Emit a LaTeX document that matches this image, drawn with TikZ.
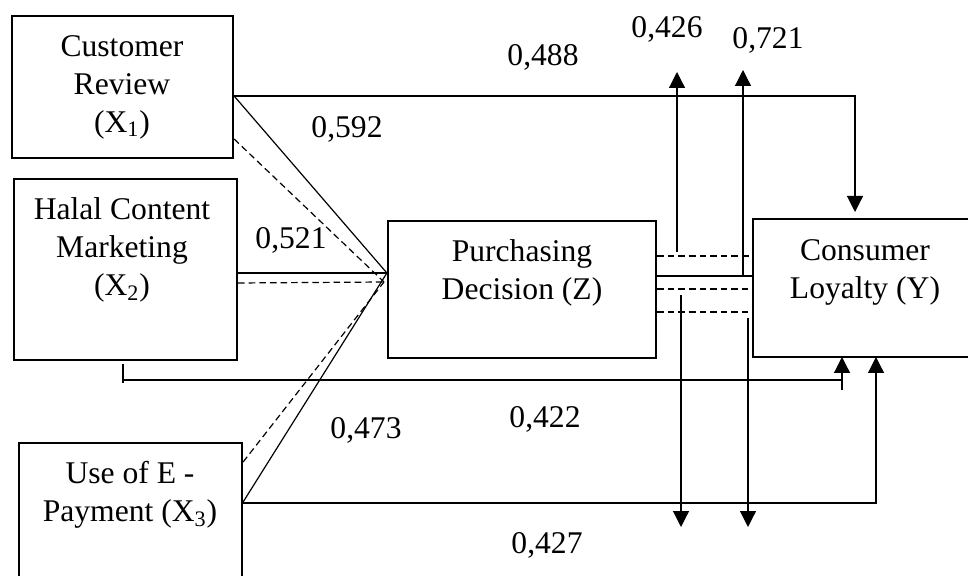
\documentclass[tikz,border=0pt]{standalone}
\usepackage{fontspec}
\setmainfont{Liberation Serif}
\usetikzlibrary{arrows.meta}

\begin{document}
\begin{tikzpicture}[x=0.5pt,y=-0.5pt,
        box/.style={draw,line width=1.1pt,inner sep=0pt},
        txt/.style={align=center,inner sep=0pt,font=\fontsize{15.8}{19}\selectfont},
        ln/.style={line width=0.6pt},
        dln/.style={line width=0.6pt,dash pattern=on 3.3pt off 2pt},
        arr/.style={line width=0.6pt,-{Triangle[width=8pt,length=8pt]}}]
            \useasboundingbox (0,0) rectangle (968,576);
            \clip (0,0) rectangle (968,576);
            % boxes
            \node[box,minimum width=110.5pt,minimum height=71pt] (x1) at (122.5,87) {};
            \node[box,minimum width=111.5pt,minimum height=90.5pt] (x2) at (125.5,269.5) {};
            \node[box,minimum width=111.5pt,minimum height=73.5pt] (x3) at (130.5,516.5) {};
            \node[box,minimum width=134pt,minimum height=68.5pt] (z) at (522,289.5) {};
            \node[box,minimum width=112pt,minimum height=69pt] (y) at (865,288) {};
            \node[txt] (x1t) at (122,87) {Customer\\Review\\(X\textsubscript{1})};
            \node[txt] (x2t) at (122,250) {Halal Content\\Marketing\\(X\textsubscript{2})};
            \node[txt] (x3t) at (130,495) {Use of E -\\Payment (X\textsubscript{3})};
            \node[txt] (zt) at (522,273) {Purchasing\\Decision (Z)};
            \node[txt] (yt) at (865,272) {Consumer\\Loyalty (Y)};
            % into Z
            \coordinate (zs) at (z.west |- 0,273);
            \coordinate (zd) at (384,282);
            \draw[ln] (x1.east |- 0,96) -- (zs);
            \draw[dln] (x1.east |- 0,139) -- (zd);
            \draw[ln] (x2.east |- 0,273) -- (zs);
            \draw[dln] (x2.east |- 0,283) -- (zd);
            \draw[ln] (x3.east |- 0,502) -- (zs);
            \draw[dln] (x3.east |- 0,462) -- (zd);
            % direct to Y
            \coordinate (y1) at (855,212);
            \coordinate (y2) at (842,357);
            \coordinate (y3) at (876,357);
            \coordinate (x2tick) at (123,380);
            \draw[arr] (x1.east |- 0,96) -| (y1);
            \draw[ln] (123,364) -- (123,383);
            \draw[arr] (x2tick) -| (y2);
            \draw[ln] (842,380) -- (842,390);
            \draw[arr] (x3.east |- 0,503) -| (y3);
            % Z to Y
            \draw[dln] (z.east |- 0,256) -- (y.west |- 0,256);
            \draw[ln] (z.east |- 0,276) -- (y.west |- 0,276);
            \draw[dln] (z.east |- 0,289) -- (748,289);
            \draw[dln] (z.east |- 0,312) -- (748,312);
            \foreach \xa/\ya/\yb in {677/252/72, 743/275/70, 681/295/527, 748/318/527}
                \draw[arr] (\xa,\ya) -- (\xa,\yb);
            % values
            \node[txt] (v488) at (543,57) {0,488};
            \node[txt] (v426) at (667,29) {0,426};
            \node[txt] (v721) at (768,40) {0,721};
            \node[txt] (v592) at (347,129) {0,592};
            \node[txt] (v521) at (291,240) {0,521};
            \node[txt] (v473) at (366,430) {0,473};
            \node[txt] (v422) at (545,419) {0,422};
            \node[txt] (v427) at (547,545) {0,427};
        \end{tikzpicture}
\end{document}
